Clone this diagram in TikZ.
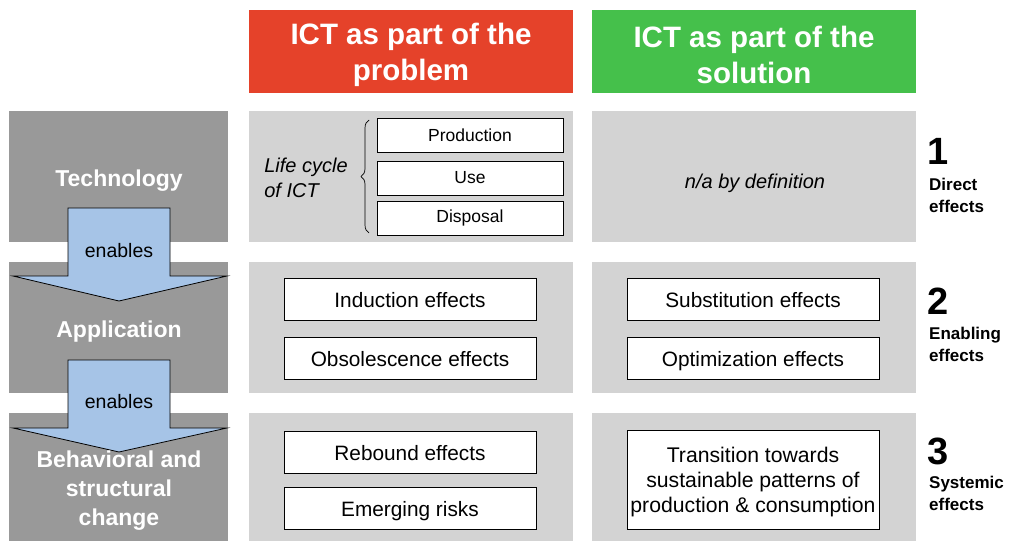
\documentclass[tikz,border=0pt]{standalone}
\usepackage{fontspec}
\setmainfont{Liberation Sans}
\usetikzlibrary{decorations.pathreplacing}
\definecolor{redh}{HTML}{E5422A}
\definecolor{greenh}{HTML}{45C04B}
\definecolor{darkg}{HTML}{999999}
\definecolor{lightg}{HTML}{D3D3D3}
\definecolor{arrowblue}{HTML}{A6C4E7}
\begin{document}
\begin{tikzpicture}[x=1pt,y=-1pt,
  panel/.style={fill=lightg, draw=none, anchor=north west, inner sep=0pt, outer sep=0pt, minimum width=324pt},
  leftpanel/.style={fill=darkg, draw=none, anchor=north west, inner sep=0pt, outer sep=0pt, minimum width=219pt},
  header/.style={anchor=north west, inner sep=0pt, outer sep=0pt, minimum width=324pt, minimum height=83pt},
  headtext/.style={text=white, align=center, font=\fontsize{29.5}{36}\selectfont\bfseries},
  box/.style={draw=black, line width=0.8pt, fill=white, anchor=north west, inner sep=0pt, outer sep=0pt, minimum width=252pt, minimum height=42pt, font=\fontsize{20.8}{25}\selectfont},
  onebox/.style={box, text height=16.5pt, text depth=0pt},
  lcbox/.style={draw=black, line width=0.8pt, fill=white, anchor=north west, inner sep=0pt, outer sep=0pt, minimum width=186pt, minimum height=34pt, font=\fontsize{17.5}{21}\selectfont},
  lefttext/.style={text=white, align=center, font=\fontsize{23}{29}\selectfont\bfseries},
  enabletext/.style={font=\fontsize{19.5}{24}\selectfont},
  blockarrow/.style={fill=arrowblue, draw=black, line width=0.8pt, line join=miter},
  num/.style={anchor=base west, inner sep=0pt, font=\fontsize{38}{38}\selectfont\bfseries},
  efftext/.style={anchor=base west, inner sep=0pt, font=\fontsize{17}{22}\selectfont\bfseries},
  italtext/.style={font=\fontsize{20}{25}\selectfont\itshape}
]
\useasboundingbox (0,0) rectangle (1013,541);

% headers
\node[header, fill=redh] (hprob) at (249,10) {};
\node[header, fill=greenh] (hsol) at (592,10) {};
\node[headtext] (tprob) at (411,55) {ICT as part of the\\problem};
\node[headtext] (tsol) at (754,55) {ICT as part of the\\solution};

% left column
\node[leftpanel, minimum height=131pt] (ltech) at (9,111) {};
\node[leftpanel, minimum height=131pt] (lapp) at (9,262) {};
\node[leftpanel, minimum height=128pt] (lbeh) at (9,413) {};

% panels
\node[panel, minimum height=131pt] (p11) at (249,111) {};
\node[panel, minimum height=131pt] (p12) at (592,111) {};
\node[panel, minimum height=131pt] (p21) at (249,262) {};
\node[panel, minimum height=131pt] (p22) at (592,262) {};
\node[panel, minimum height=128pt] (p31) at (249,413) {};
\node[panel, minimum height=128pt] (p32) at (592,413) {};

% block arrows
\draw[blockarrow] (68,208) -- (170,208) -- (170,276) -- (227,276) -- (119,301) -- (13,276) -- (68,276) -- cycle;
\draw[blockarrow] (68,360) -- (170,360) -- (170,428) -- (227,428) -- (119,452) -- (13,428) -- (68,428) -- cycle;
\node[enabletext] (en1) at (119,251) {enables};
\node[enabletext] (en2) at (119,402) {enables};

% left labels
\node[lefttext] (tech) at (119,181) {Technology};
\node[lefttext] (app) at (119,332) {Application};
\node[lefttext] (beh) at (119,491) {Behavioral and\\structural\\change};

% row 1
\node[italtext, align=left] (lc) at (306,178) {Life cycle\\of ICT};
\draw[line width=0.7pt, decorate, decoration={brace, amplitude=8pt}] (369,233) -- (369,120);
\node[lcbox] (prod) at (377,118) {Production};
\node[lcbox] (use) at (377,161) {Use};
\node[lcbox] (disp) at (377,201) {Disposal};
\node[italtext] (na) at (755,183) {n/a by definition};

% row 2
\node[onebox] (ind) at (284,278) {Induction effects};
\node[onebox] (obs) at (284,337) {Obsolescence effects};
\node[onebox] (sub) at (627,278) {Substitution effects};
\node[onebox] (opt) at (627,337) {Optimization effects};

% row 3
\node[onebox] (reb) at (284,431) {Rebound effects};
\node[onebox] (emr) at (284,487) {Emerging risks};
\node[box, minimum height=99pt] (tra) at (627,430) {};
\node[align=center, font=\fontsize{21.2}{25}\selectfont] (tratext) at ([yshift=-3pt]tra.center) {Transition towards\\sustainable patterns of\\production \& consumption};

% right labels
\node[num] (n1) at (927,164) {1};
\node[efftext] (d1) at (929,190) {Direct};
\node[efftext] (d2) at (929,212) {effects};
\node[num] (n2) at (927,314) {2};
\node[efftext] (e1) at (929,339) {Enabling};
\node[efftext] (e2) at (929,361) {effects};
\node[num] (n3) at (927,464) {3};
\node[efftext] (s1) at (929,488) {Systemic};
\node[efftext] (s2) at (929,510) {effects};
\end{tikzpicture}
\end{document}
